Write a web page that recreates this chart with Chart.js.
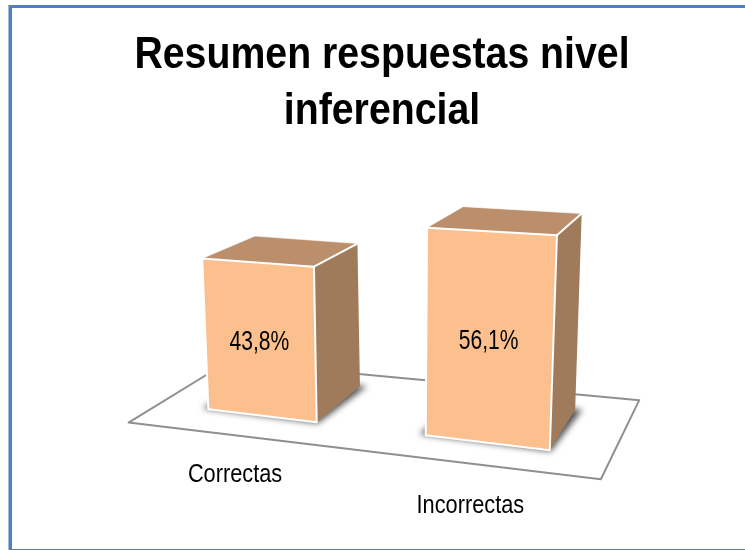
<!DOCTYPE html>
<html><head><meta charset="utf-8">
<script src="https://cdn.jsdelivr.net/npm/chart.js@4"></script>
<style>
html,body{margin:0;padding:0;background:#fff;overflow:hidden}
#wrap{position:absolute;left:0;top:0;width:745px;height:550px}
#frame{position:absolute;left:9px;top:5px;width:736px;height:545px;box-sizing:border-box;border-left:3px solid #4f81bd;border-top:3px solid #4f81bd;border-bottom:1px solid #4f81bd;box-shadow:-1px 0 0 #a3bbda}
canvas{position:absolute;left:0;top:0}
</style></head><body>
<div id="wrap"><div id="frame"></div><canvas id="c" width="745" height="550"></canvas></div>
<script>
const titleLines = ['Resumen respuestas nivel', 'inferencial'];
const categories = ['Correctas', 'Incorrectas'];
const values = [43.8, 56.1];
const valueLabels = ['43,8%', '56,1%'];
const axisMax = 60;

const frontColor = '#FBC08D', topColor = '#BC8F6C', sideColor = '#9F7B5B', floorLine = '#8f8f8f';

// Camera: screen quad of the front plane (u across, v up) and vanishing point of depth
const quad = [[150,402.2],[620,458.6],[631.5,223.6],[139,197]];
const vanish = [840,-13];
const uAt0 = 0.264, uStep = 0.480;

function homography(q){
  const [[x0,y0],[x1,y1],[x2,y2],[x3,y3]] = q;
  const dx1=x1-x2, dx2=x3-x2, sx=x0-x1+x2-x3, dy1=y1-y2, dy2=y3-y2, sy=y0-y1+y2-y3;
  const den=dx1*dy2-dx2*dy1, g=(sx*dy2-dx2*sy)/den, h=(dx1*sy-sx*dy1)/den;
  return {a:x1-x0+g*x1,b:x3-x0+h*x3,c:x0,d:y1-y0+g*y1,e:y3-y0+h*y3,f:y0,g,h};
}
const H = homography(quad);
function plane(u,v){
  const w=H.g*u+H.h*v+1;
  return [(H.a*u+H.b*v+H.c)/w,(H.d*u+H.e*v+H.f)/w];
}
function depth(p,f){ return [p[0]+f*(vanish[0]-p[0]), p[1]+f*(vanish[1]-p[1])]; }

function poly(ctx,pts){
  ctx.beginPath();
  pts.forEach((p,i)=> i?ctx.lineTo(p[0],p[1]):ctx.moveTo(p[0],p[1]));
  ctx.closePath();
}
function text(ctx,s,x,y,size,sx){
  ctx.save();
  ctx.translate(x,y); ctx.scale(sx,1);
  ctx.font=size+'px "Liberation Sans", Arial, sans-serif';
  ctx.fillStyle='#000'; ctx.textAlign='center'; ctx.textBaseline='middle';
  ctx.fillText(s,0,0);
  ctx.restore();
}

const bar3d = {
  id:'bar3d',
  afterLayout(chart){
    // the reference's type is narrow: condense the library's title about its centre
    const tb=chart.titleBlock;
    if(!tb || tb._condensed) return;
    tb._condensed=true;
    const draw=tb.draw, ctx=chart.ctx;
    tb.draw=function(){
      const cx=(tb.left+tb.right)/2;
      ctx.save(); ctx.translate(cx,0); ctx.scale(0.872,1); ctx.translate(-cx,0);
      draw.call(tb);
      ctx.restore();
    };
  },
  beforeDatasetDraw(chart){
    const ctx=chart.ctx, xs=chart.scales.x, ys=chart.scales.y;
    const x0=xs.getPixelForTick(0), x1=xs.getPixelForTick(1);
    const U=px=>uAt0+uStep*(px-x0)/(x1-x0);
    const V=py=>(ys.getPixelForValue(0)-py)/(ys.getPixelForValue(0)-ys.getPixelForValue(axisMax));
    const Fd=u=>0.080+0.010*u;
    ctx.save();
    ctx.lineJoin='round';
    // floor
    const fl=U(chart.chartArea.left), fr=U(chart.chartArea.right);
    const floorFront=-0.046;
    const a=depth(plane(fl,0),floorFront), b=depth(plane(fr,0),floorFront), c=depth(plane(fr,0),0.122), d=depth(plane(fl,0),0.100);
    poly(ctx,[a,b,c,d]); ctx.fillStyle='#fff'; ctx.fill();
    ctx.strokeStyle=floorLine; ctx.lineWidth=2; ctx.stroke();
    const meta=chart.getDatasetMeta(0);
    meta.data.forEach((el,i)=>{
      const uC=U(el.x), uL=U(el.x-el.width/2), uR=U(el.x+el.width/2), vT=V(el.y), f=Fd(uC);
      const BL=plane(uL,0), BR=plane(uR,0), TR=plane(uR,vT), TL=plane(uL,vT);
      const bBL=depth(BL,f), bBR=depth(BR,f), bTR=depth(TR,f), bTL=depth(TL,f);
      // soft contact shadow
      ctx.save();
      ctx.filter='blur(3px)';
      ctx.fillStyle='rgba(50,50,50,0.85)';
      poly(ctx,[[BL[0]-6,BL[1]-1],[BR[0]+1,BR[1]+1],[bBR[0]+7,bBR[1]],bBL]); ctx.fill();
      ctx.restore();
      poly(ctx,[BR,TR,bTR,bBR]); ctx.fillStyle=sideColor; ctx.fill();
      poly(ctx,[TL,TR,bTR,bTL]); ctx.fillStyle=topColor; ctx.fill();
      ctx.strokeStyle='rgba(255,255,255,0.55)'; ctx.lineWidth=1;
      ctx.beginPath(); ctx.moveTo(TL[0],TL[1]); ctx.lineTo(bTL[0],bTL[1]); ctx.lineTo(bTR[0],bTR[1]); ctx.stroke();
      ctx.strokeStyle='#fff'; ctx.lineWidth=2;
      ctx.beginPath(); ctx.moveTo(TR[0],TR[1]); ctx.lineTo(bTR[0],bTR[1]); ctx.stroke();
      poly(ctx,[BL,BR,TR,TL]); ctx.fillStyle=el.options.backgroundColor; ctx.fill();
      ctx.stroke();
      const mid=plane(uC,vT/2);
      text(ctx,valueLabels[i],mid[0],mid[1]+2,27,0.78);
      const lab=depth(plane(uC,0),floorFront);
      text(ctx,categories[i],lab[0],lab[1]+37.5+7*uC,25,0.87);
    });
    ctx.restore();
    return false;
  }
};

new Chart(document.getElementById('c'),{
  type:'bar',
  data:{labels:categories,datasets:[{label:'Resumen',data:values,backgroundColor:frontColor,categoryPercentage:1,barPercentage:0.515}]},
  options:{
    responsive:false,animation:false,
    layout:{padding:{left:19,top:0,right:0,bottom:20}},
    plugins:{
      legend:{display:false},tooltip:{enabled:false},
      title:{display:true,text:titleLines,color:'#000',padding:{top:27,bottom:10},
        font:{family:'"Liberation Sans", Arial, sans-serif',size:45,weight:'bold',lineHeight:1.26}}
    },
    scales:{
      x:{display:false,type:'category',offset:true},
      y:{display:false,min:0,max:axisMax}
    }
  },
  plugins:[bar3d]
});
</script>
</body></html>
